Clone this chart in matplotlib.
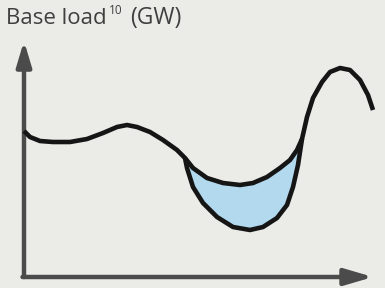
import matplotlib
matplotlib.use("Agg")
import matplotlib.pyplot as plt

# Main load curve (x: time, y: load)
time_main = [0, 6, 16, 29, 46, 63, 79, 93, 103, 113, 126, 139, 153, 161, 169,
             183, 199, 216, 229, 243, 256, 266, 273, 278, 283, 289, 298, 306,
             316, 326, 336, 344, 349]
load_main = [147, 141, 137, 136, 136, 139, 145, 151, 153, 151, 146, 138, 128,
             120, 110, 100, 95, 93, 95, 101, 110, 118, 128, 139, 161, 180, 196,
             206, 210, 208, 198, 183, 168]

# Lower (shifted) curve
time_low = [161, 163, 169, 179, 193, 209, 226, 239, 253, 263, 269, 274, 278]
load_low = [120, 110, 91, 75, 61, 51, 48, 51, 60, 73, 91, 113, 139]

title_main = "Base load"
title_sup = "10"
title_unit = "(GW)"

bg = "#ebebe8"
fig = plt.figure(figsize=(3.85, 2.88), dpi=100, facecolor=bg)
ax = fig.add_axes([0, 0, 1, 1])
ax.set_facecolor(bg)
ax.set_xlim(-24, 361)
ax.set_ylim(-10, 278)
ax.axis("off")

# shaded area between lower curve and main curve
i0 = time_main.index(time_low[0])
i1 = time_main.index(time_low[-1])
seg_t = time_main[i0:i1 + 1]
seg_l = load_main[i0:i1 + 1]
ax.fill(time_low + seg_t[::-1], load_low + seg_l[::-1],
        color="#b3d9ef", lw=0, zorder=1)

lw = 3.3
for tx, ly in ((time_main, load_main), (time_low, load_low)):
    ax.plot(tx, ly, color="#151515", lw=lw, solid_capstyle="butt",
            solid_joinstyle="round", zorder=3)

# axes arrows
axc = "#4b4b4b"
ax.annotate("", xy=(0, 237), xytext=(0, 1),
            arrowprops=dict(arrowstyle="-|>,head_length=1.5,head_width=0.45",
                            color=axc, lw=3.2, shrinkA=0, shrinkB=0), zorder=2)
ax.annotate("", xy=(349, 1), xytext=(-1.5, 1),
            arrowprops=dict(arrowstyle="-|>,head_length=1.7,head_width=0.5",
                            color=axc, lw=3.2, shrinkA=0, shrinkB=0), zorder=2)

# title
fam = ["Open Sans", "DejaVu Sans"]
tc = "#404040"
W, H = 385, 288
base_y = 1 - 24 / H
fig.text(6 / W, base_y, title_main, fontsize=16, color=tc, family=fam,
         va="baseline", ha="left")
fig.text(109 / W, 1 - 14 / H, title_sup, fontsize=8.5, color=tc, family=fam,
         va="baseline", ha="left")
fig.text(130 / W, base_y, title_unit, fontsize=16.5, color=tc, family=fam,
         va="baseline", ha="left")

fig.savefig("out.png", dpi=100, facecolor=bg)
